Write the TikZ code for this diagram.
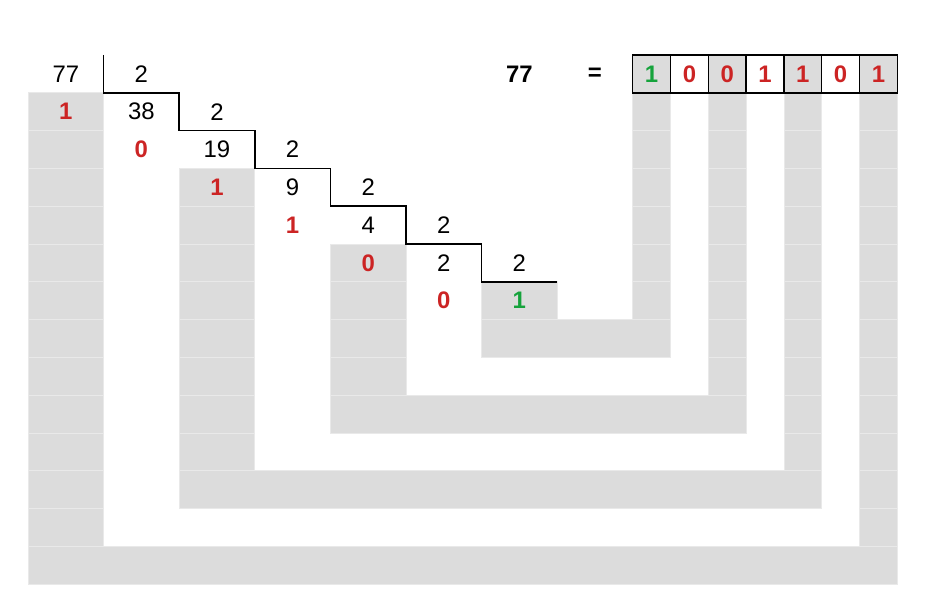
\documentclass[tikz,border=0pt]{standalone}
\usepackage{fontspec}
\setmainfont{Liberation Sans}

\definecolor{bitred}{HTML}{CC2424}
\definecolor{bitgreen}{HTML}{16A33C}
\definecolor{bandgray}{HTML}{DCDCDC}
\definecolor{seamgray}{HTML}{E9E9E9}

\tikzset{
  num/.style={font=\fontsize{18}{21}\selectfont},
  rem/.style={font=\fontsize{18}{21}\selectfont\bfseries,text=bitred},
  lastbit/.style={rem,text=bitgreen},
  band/.style={fill=bandgray,draw=seamgray,line width=0.6pt},
  bitcell/.style={draw,line width=1.1pt,minimum size=1cm,inner sep=0pt,
    font=\fontsize{18}{21}\selectfont\bfseries,text=bitred},
}

\begin{document}
\begin{tikzpicture}

\useasboundingbox (-0.741,1.455) rectangle (23.865,-14.683);

%% gray bands (left column / bottom bar / right column)
\foreach \a/\t/\b/\r in {0/1/14/23, 4/3/12/21, 8/5/10/19, 12/6/8/17}{
  \pgfmathtruncatemacro{\last}{\b-2}
  \foreach \j in {\t,...,\last}
    \draw[band] (\a,-\j) rectangle ({\a+2},{-\j-1});
  \foreach \j in {1,...,\last}
    \draw[band] ({\r-1},-\j) rectangle (\r,{-\j-1});
  \draw[band] (\a,{-\b+1}) rectangle (\r,-\b);
}

%% staircase
\draw[line width=1.3pt] (2,0) \foreach \k in {1,...,6}{ -- ({2*\k},{-\k}) -- ({2*\k+2},{-\k}) };

%% quotients and divisors
\foreach \q [count=\k from 0] in {77,38,19,9,4,2}{
  \node[num] (q\k) at ({2*\k+1},{-\k-0.5}) {\q};
  \node[num] (d\k) at ({2*\k+3},{-\k-0.5}) {2};
}

%% remainders
\foreach \m [count=\k from 0] in {1,0,1,1,0,0}
  \node[rem] (r\k) at ({2*\k+1},{-\k-1.5}) {\m};
\node[lastbit] (r6) at (13,-6.5) {1};

%% result
\node[font=\fontsize{18}{21}\selectfont\bfseries] (res) at (13,-0.5) {77};
\node[font=\fontsize{18}{21}\selectfont\bfseries] (eq) at (15,-0.5) {=};

\node[bitcell,fill=bandgray,text=bitgreen] (b1) at (16.5,-0.5) {1};
\node[bitcell] (b2) at (17.5,-0.5) {0};
\node[bitcell,fill=bandgray] (b3) at (18.5,-0.5) {0};
\node[bitcell] (b4) at (19.5,-0.5) {1};
\node[bitcell,fill=bandgray] (b5) at (20.5,-0.5) {1};
\node[bitcell] (b6) at (21.5,-0.5) {0};
\node[bitcell,fill=bandgray] (b7) at (22.5,-0.5) {1};

\end{tikzpicture}
\end{document}
